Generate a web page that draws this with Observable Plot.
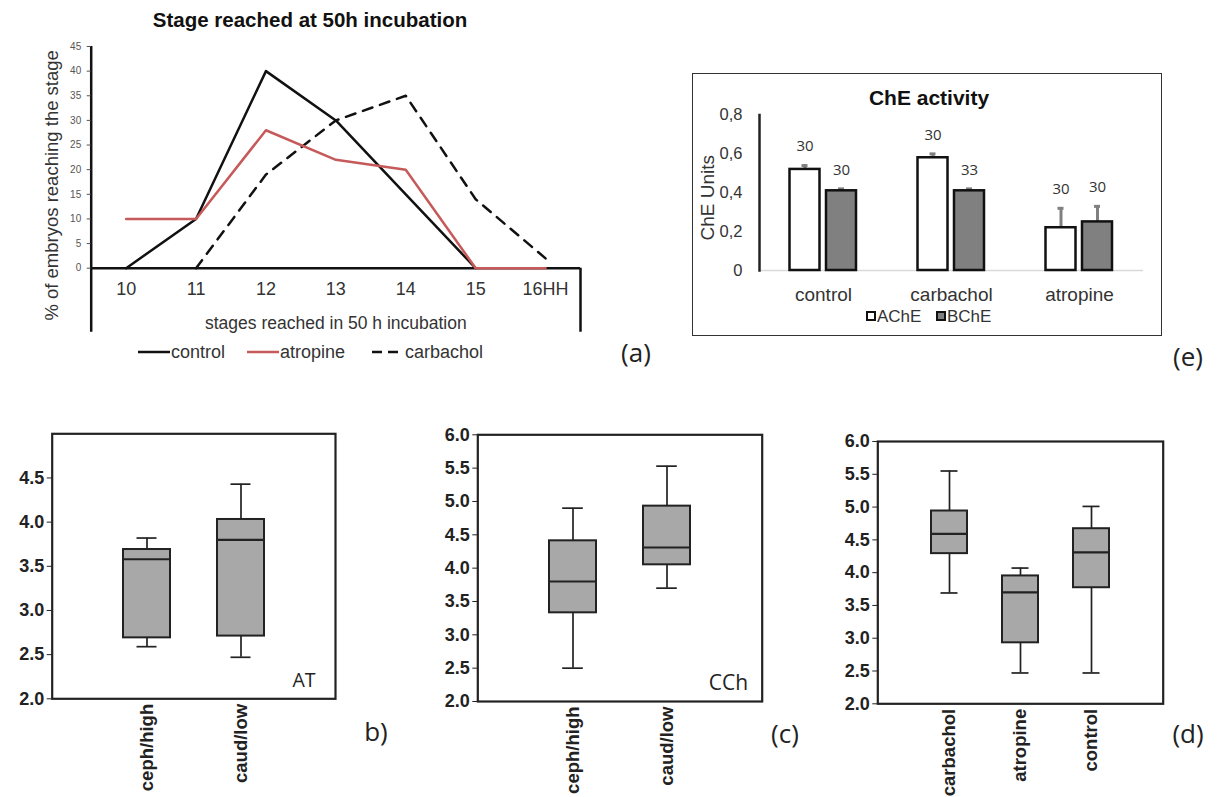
<!DOCTYPE html>
<html><head><meta charset="utf-8">
<script src="https://cdn.jsdelivr.net/npm/d3@7"></script>
<script src="https://cdn.jsdelivr.net/npm/@observablehq/plot@0.6"></script>
<style>
html,body{margin:0;padding:0;background:#fff;}
#root{position:relative;width:1219px;height:797px;overflow:hidden;font-family:"Liberation Sans",Arial,sans-serif;color:#222;}
#root > *{position:absolute;}
.ctr{transform:translate(-50%,-50%);white-space:nowrap;line-height:1;}
.plab{font-family:"Open Sans",sans-serif;font-size:26px;color:#222;}
</style></head><body><div id="root"></div>
<script>
// ---------- (a) stage reached at 50 h ----------
const stages = [10, 11, 12, 13, 14, 15, 16];
const stageLabels = ["10", "11", "12", "13", "14", "15", "16HH"];
const controlPct   = [0, 10, 40, 30, 15, 0, null];
const atropinePct  = [10, 10, 28, 22, 20, 0, 0];
const carbacholPct = [null, 0, 19, 30, 35, 14, 2];
const seriesNames = ["control", "atropine", "carbachol"];
const yTicksA = [0, 5, 10, 15, 20, 25, 30, 35, 40, 45];

// ---------- (e) ChE activity ----------
const cheGroups = ["control", "carbachol", "atropine"];
const enzymes = ["AChE", "BChE"];
const acheMean = [0.52, 0.58, 0.22];
const acheErr  = [0.02, 0.02, 0.10];
const acheN    = [30, 30, 30];
const bcheMean = [0.41, 0.41, 0.25];
const bcheErr  = [0.01, 0.01, 0.08];
const bcheN    = [30, 33, 30];
const yTicksE = [0, 0.2, 0.4, 0.6, 0.8];

// ---------- (b) AT ----------
const bCats = ["ceph/high", "caud/low"];
const bLow  = [2.59, 2.47];
const bQ1   = [2.69, 2.71];
const bMed  = [3.58, 3.80];
const bQ3   = [3.69, 4.03];
const bHigh = [3.82, 4.43];
// ---------- (c) CCh ----------
const cCats = ["ceph/high", "caud/low"];
const cLow  = [2.50, 3.70];
const cQ1   = [3.33, 4.05];
const cMed  = [3.80, 4.31];
const cQ3   = [4.41, 4.93];
const cHigh = [4.90, 5.53];
// ---------- (d) treatments ----------
const dCats = ["carbachol", "atropine", "control"];
const dLow  = [3.69, 2.47, 2.47];
const dQ1   = [4.29, 2.93, 3.77];
const dMed  = [4.59, 3.70, 4.31];
const dQ3   = [4.94, 3.95, 4.67];
const dHigh = [5.55, 4.07, 5.01];
const yTicksB  = [2.0, 2.5, 3.0, 3.5, 4.0, 4.5];
const yTicksCD = [2.0, 2.5, 3.0, 3.5, 4.0, 4.5, 5.0, 5.5, 6.0];

const root = document.getElementById("root");
function place(el, left, topPx) { el.style.position = "absolute"; el.style.left = left + "px"; el.style.top = topPx + "px"; root.appendChild(el); return el; }
function label(text, x, y, css, cls = "ctr") {
  const e = document.createElement("div"); e.textContent = text; e.className = cls;
  Object.assign(e.style, css); return place(e, x, y);
}
const baseStyle = {fontFamily: "Liberation Sans, Arial, sans-serif", background: "transparent", overflow: "visible", color: "#222"};

// ===== Panel (a) =====
const rowsA = [];
[controlPct, atropinePct, carbacholPct].forEach((vals, i) =>
  stages.forEach((s, j) => { if (vals[j] != null) rowsA.push({series: seriesNames[i], stage: s, pct: vals[j]}); }));
const xLo = d3.min(stages) - 0.5, xHi = d3.max(stages) + 0.5, yBottomA = -13;
const plotA = Plot.plot({
  width: 620, height: 320, marginLeft: 90.7, marginRight: 40, marginTop: 16, marginBottom: 82.3,
  x: {type: "linear", domain: [xLo, xHi]},
  y: {domain: [0, 45]},
  style: baseStyle,
  marks: [
    Plot.ruleX([xLo], {y1: yBottomA, y2: 45, stroke: "#111", strokeWidth: 2.5}),
    Plot.ruleX([xHi], {y1: yBottomA, y2: 0, stroke: "#111", strokeWidth: 2.5}),
    Plot.ruleY([0], {stroke: "#111", strokeWidth: 2.5}),
    Plot.axisY({ticks: yTicksA, tickSize: 4, tickPadding: 6, fontSize: 10, color: "#555", label: null}),
    Plot.axisX({ticks: stages, tickSize: 0, tickPadding: 14, fontSize: 18, color: "#333", label: null,
      tickFormat: d => stageLabels[stages.indexOf(d)]}),
    Plot.text(["stages reached in 50 h incubation"], {frameAnchor: "bottom", lineAnchor: "middle", textAnchor: "middle", dy: 55.3, fontSize: 17.5, fill: "#333"}),
    Plot.text(["% of embryos reaching the stage"], {frameAnchor: "left", textAnchor: "middle", lineAnchor: "middle", rotate: -90, dx: -38.7, dy: 28, fontSize: 18.5, fill: "#333"}),
    Plot.line(rowsA.filter(d => d.series === "carbachol"), {x: "stage", y: "pct", stroke: "#111", strokeWidth: 2.5, strokeDasharray: "10,8"}),
    Plot.line(rowsA.filter(d => d.series === "control"), {x: "stage", y: "pct", stroke: "#111", strokeWidth: 2.5}),
    Plot.line(rowsA.filter(d => d.series === "atropine"), {x: "stage", y: "pct", stroke: "#c65a5a", strokeWidth: 2.5})
  ]
});
place(plotA, 0, 30);
label("Stage reached at 50h incubation", 310, 20, {fontWeight: "bold", fontSize: "20.5px", color: "#111"});
// legend (a)
const legA = [
  {name: seriesNames[0], color: "#111", dash: null, x: 138},
  {name: seriesNames[1], color: "#c65a5a", dash: null, x: 247},
  {name: seriesNames[2], color: "#111", dash: "10,6", x: 372}
];
legA.forEach(it => {
  const s = document.createElementNS("http://www.w3.org/2000/svg", "svg");
  s.setAttribute("width", 32); s.setAttribute("height", 6);
  s.innerHTML = `<line x1="0" y1="3" x2="32" y2="3" stroke="${it.color}" stroke-width="2.5" ${it.dash ? `stroke-dasharray="${it.dash}"` : ""}/>`;
  place(s, it.x, 349);
  const t = document.createElement("div"); t.textContent = it.name;
  Object.assign(t.style, {fontSize: "18px", color: "#333", lineHeight: "1"});
  place(t, it.x + 33, 343);
});
label("(a)", 636, 352, {}, "ctr plab");

// ===== Panel (e) =====
const rowsE = cheGroups.flatMap((g, i) => [
  {group: g, enzyme: enzymes[0], mean: acheMean[i], err: acheErr[i], n: acheN[i]},
  {group: g, enzyme: enzymes[1], mean: bcheMean[i], err: bcheErr[i], n: bcheN[i]}
]);
const ach = rowsE.filter(d => d.enzyme === "AChE"), bch = rowsE.filter(d => d.enzyme === "BChE");
const errTop = d => d.mean + d.err;
const errMarks = (data, dx) => [
  Plot.ruleX(data, {x: "group", y1: "mean", y2: errTop, dx, stroke: "#808080", strokeWidth: 3}),
  Plot.tickY(data, {x: "group", y: errTop, dx, insetLeft: 61, insetRight: 61, stroke: "#808080", strokeWidth: 3})
];
const plotE = Plot.plot({
  width: 470, height: 263, marginLeft: 67, marginRight: 19, marginTop: 41.5, marginBottom: 66,
  x: {type: "band", domain: cheGroups, padding: 0},
  y: {domain: [0, 0.8]},
  style: baseStyle,
  marks: [
    Plot.ruleY([0], {stroke: "#d9d9d9", strokeWidth: 1.5}),
    Plot.frame({anchor: "left", stroke: "#222", strokeWidth: 2.5}),
    Plot.axisY({ticks: yTicksE, tickSize: 0, tickPadding: 17, fontSize: 16.5, color: "#333", label: null,
      tickFormat: d => d === 0 ? "0" : d3.format(".1f")(d).replace(".", ",")}),
    Plot.axisX({tickSize: 0, tickPadding: 17, fontSize: 19, color: "#333", label: null}),
    Plot.text(["ChE Units"], {frameAnchor: "left", textAnchor: "middle", lineAnchor: "middle", rotate: -90, dx: -52, dy: 5, fontSize: 19, fill: "#333"}),
    ...errMarks(ach, -18.5),
    ...errMarks(bch, 18),
    Plot.barY(ach, {x: "group", y: "mean", fill: "white", stroke: "#111", strokeWidth: 2.5, insetLeft: 30.5, insetRight: 67.5}),
    Plot.barY(bch, {x: "group", y: "mean", fill: "#808080", stroke: "#111", strokeWidth: 2.5, insetLeft: 67, insetRight: 31}),
    Plot.text(ach, {x: "group", y: errTop, text: "n", dx: -18.5, dy: -19, fontSize: 15, fontFamily: "Open Sans", fill: "#333"}),
    Plot.text(bch, {x: "group", y: errTop, text: "n", dx: 18, dy: -19, fontSize: 15, fontFamily: "Open Sans", fill: "#333"})
  ]
});
place(plotE, 692, 73);
const frameE = document.createElement("div");
Object.assign(frameE.style, {width: "470px", height: "263px", border: "1.5px solid #333", boxSizing: "border-box", pointerEvents: "none"});
place(frameE, 692, 73);
label("ChE activity", 929, 97, {fontWeight: "bold", fontSize: "21px", color: "#111"});
// legend (e)
[{name: enzymes[0], fill: "white", x: 866}, {name: enzymes[1], fill: "#808080", x: 936}].forEach(it => {
  const sq = document.createElement("div");
  Object.assign(sq.style, {width: "10px", height: "10px", border: "2px solid #111", background: it.fill, boxSizing: "border-box"});
  place(sq, it.x, 311);
  const t = document.createElement("div"); t.textContent = it.name;
  Object.assign(t.style, {fontSize: "17px", color: "#333", lineHeight: "1"});
  place(t, it.x + 11, 308);
});
label("(e)", 1188, 356, {}, "ctr plab");

// ===== Box panels (b), (c), (d) =====
function boxPanel(cats, lo, q1, med, q3, hi, o) {
  const rows = cats.map((c, i) => ({cat: c, lo: lo[i], q1: q1[i], med: med[i], q3: q3[i], hi: hi[i]}));
  const marks = [
    Plot.ruleX(rows, {x: "cat", y1: "lo", y2: "hi", stroke: "#222", strokeWidth: 1.7}),
    Plot.tickY(rows, {x: "cat", y: "lo", insetLeft: o.cap, insetRight: o.cap, stroke: "#222", strokeWidth: 1.7}),
    Plot.tickY(rows, {x: "cat", y: "hi", insetLeft: o.cap, insetRight: o.cap, stroke: "#222", strokeWidth: 1.7}),
    Plot.barY(rows, {x: "cat", y1: "q1", y2: "q3", fill: "#a8a8a8", stroke: "#222", strokeWidth: 2}),
    Plot.tickY(rows, {x: "cat", y: "med", stroke: "#222", strokeWidth: 2.2}),
    Plot.frame({stroke: "#222", strokeWidth: 2.2}),
    Plot.axisY({ticks: o.ticks, tickFormat: d3.format(".1f"), tickSize: 5, tickPadding: 3, fontSize: 18, label: null}),
    Plot.axisX({tickRotate: -90, tickSize: 0, tickPadding: 5, fontSize: 18.5, label: null})
  ];
  if (o.note) marks.push(Plot.text([o.note], {frameAnchor: "bottom-right", dx: o.noteDx, dy: o.noteDy, textAnchor: "end",
    lineAnchor: "middle", fontSize: o.noteSize, fontWeight: "normal", fontFamily: "Open Sans", fill: "#222"}));
  return Plot.plot({
    width: o.width, height: 377, marginLeft: o.ml, marginRight: o.mr, marginTop: o.mt, marginBottom: o.mb,
    x: {type: "band", domain: cats, paddingInner: 0.5, paddingOuter: 0.75},
    y: {domain: o.yDomain},
    style: {...baseStyle, fontWeight: "bold"},
    marks
  });
}
place(boxPanel(bCats, bLow, bQ1, bMed, bQ3, bHigh, {width: 345, ml: 51.7, mr: 10, mt: 13.3, mb: 98.7, yDomain: [2, 5],
  ticks: yTicksB, cap: 13.5, note: "AT", noteDx: -20, noteDy: -18, noteSize: 19.5}), 0, 420);
place(boxPanel(cCats, cLow, cQ1, cMed, cQ3, cHigh, {width: 350, ml: 57.3, mr: 8.3, mt: 14.3, mb: 96, yDomain: [2, 6],
  ticks: yTicksCD, cap: 13.2, note: "CCh", noteDx: -14, noteDy: -18, noteSize: 21}), 420, 420);
place(boxPanel(dCats, dLow, dQ1, dMed, dQ3, dHigh, {width: 350, ml: 57.3, mr: 7.3, mt: 21, mb: 93.7, yDomain: [2, 6],
  ticks: yTicksCD, cap: 9.5}), 820, 420);
label("b)", 376, 731, {}, "ctr plab");
label("(c)", 785, 733, {}, "ctr plab");
label("(d)", 1188, 733, {}, "ctr plab");
</script></body></html>
